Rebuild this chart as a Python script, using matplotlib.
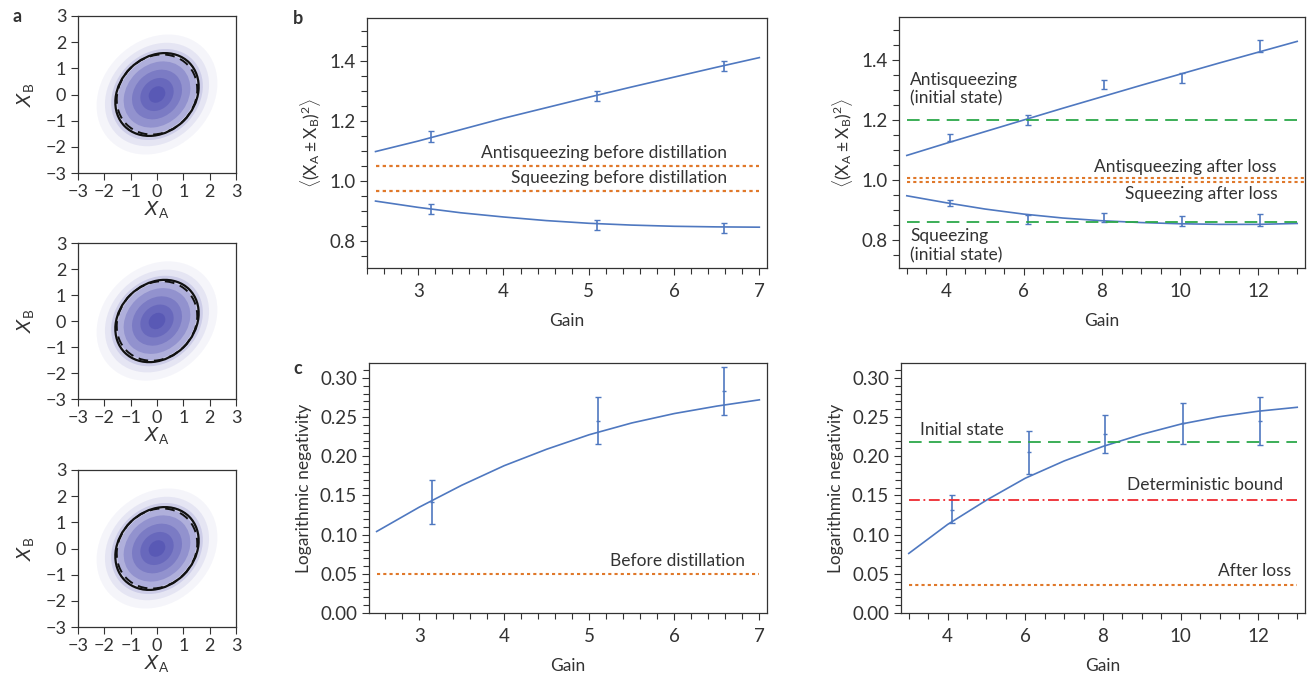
import matplotlib
matplotlib.use("Agg")
import matplotlib.pyplot as plt
from matplotlib.patches import Ellipse
from matplotlib.ticker import MultipleLocator, FormatStrFormatter

plt.rcParams['font.family'] = ['Lato', 'DejaVu Sans']
plt.rcParams['mathtext.fontset'] = 'custom'
plt.rcParams['mathtext.rm'] = 'Lato'
plt.rcParams['mathtext.it'] = 'DejaVu Sans:italic'
plt.rcParams['mathtext.bf'] = 'Lato:bold'
plt.rcParams['axes.edgecolor'] = '#333333'
plt.rcParams['xtick.color'] = '#333333'
plt.rcParams['ytick.color'] = '#333333'
plt.rcParams['text.color'] = '#333333'
plt.rcParams['axes.labelcolor'] = '#333333'

BLUE = '#4f78c0'
ORANGE = '#e0782a'
GREEN = '#2ca84a'
RED = '#ee2a30'
CLOUD = '#20209c'

# ---- panel a : ellipses (solid / dashed) and cloud shells
solid_w, solid_h = 3.45, 2.85
dash_w, dash_h = 3.25, 2.85
ell_angle = 45
cloud_scales = [0.2, 0.4, 0.6, 0.8, 0.95, 1.1, 1.25, 1.45]
cloud_alphas = [0.2, 0.2, 0.2, 0.2, 0.17, 0.12, 0.07, 0.045]

# ---- panel b, left (before distillation)
bl_gain = [3.15, 5.1, 6.58]
bl_anti = [1.148, 1.283, 1.382]
bl_anti_err = [0.018, 0.017, 0.018]
bl_sq = [0.905, 0.852, 0.842]
bl_sq_err = [0.017, 0.017, 0.018]
bl_fit_gain = [2.5, 3.0, 3.5, 4.0, 4.5, 5.0, 5.5, 6.0, 6.5, 7.0]
bl_fit_anti = [1.097, 1.132, 1.170, 1.208, 1.243, 1.278, 1.312, 1.345, 1.378, 1.410]
bl_fit_sq = [0.932, 0.911, 0.893, 0.879, 0.867, 0.858, 0.852, 0.848, 0.846, 0.845]
bl_anti_before = 1.048
bl_sq_before = 0.966

# ---- panel b, right (after loss)
br_gain = [4.1, 6.1, 8.05, 10.05, 12.05]
br_anti = [1.141, 1.200, 1.319, 1.339, 1.447]
br_anti_err = [0.011, 0.017, 0.015, 0.017, 0.02]
br_sq = [0.923, 0.869, 0.876, 0.864, 0.867]
br_sq_err = [0.010, 0.015, 0.015, 0.017, 0.02]
br_fit_gain = [3, 4, 5, 6, 7, 8, 9, 10, 11, 12, 13]
br_fit_anti = [1.082, 1.122, 1.161, 1.200, 1.239, 1.277, 1.315, 1.352, 1.389, 1.425, 1.461]
br_fit_sq = [0.948, 0.925, 0.904, 0.887, 0.874, 0.865, 0.859, 0.855, 0.853, 0.853, 0.856]
br_anti_init = 1.2
br_sq_init = 0.86
br_anti_loss = 1.007
br_sq_loss = 0.993

# ---- panel c, left
cl_gain = [3.15, 5.1, 6.58]
cl_ln = [0.142, 0.245, 0.283]
cl_err_lo = [0.028, 0.029, 0.030]
cl_err_hi = [0.028, 0.030, 0.031]
cl_fit_gain = [2.5, 3.0, 3.5, 4.0, 4.5, 5.0, 5.5, 6.0, 6.5, 7.0]
cl_fit_ln = [0.104, 0.135, 0.163, 0.188, 0.209, 0.2275, 0.2425, 0.2545, 0.264, 0.272]
cl_before = 0.05

# ---- panel c, right
cr_gain = [4.1, 6.1, 8.05, 10.05, 12.05]
cr_ln = [0.132, 0.205, 0.228, 0.242, 0.245]
cr_err_lo = [0.017, 0.027, 0.024, 0.026, 0.030]
cr_err_hi = [0.019, 0.027, 0.025, 0.026, 0.031]
cr_fit_gain = [3, 4, 5, 6, 7, 8, 9, 10, 11, 12, 13]
cr_fit_ln = [0.076, 0.113, 0.144, 0.172, 0.194, 0.2126, 0.228, 0.241, 0.2505, 0.2575, 0.2625]
cr_initial = 0.2177
cr_bound = 0.144
cr_after = 0.0363

W, H = 1308, 681
fig = plt.figure(figsize=(W / 100, H / 100), dpi=100)


def rect(left, right, top, bottom):
    return [left / W, 1 - bottom / H, (right - left) / W, (bottom - top) / H]


def style_axes(ax, fs=13.5):
    ax.tick_params(which='major', direction='out', length=5, width=0.8, labelsize=fs)
    ax.tick_params(which='minor', direction='out', length=4, width=0.8)
    ax.tick_params(axis='x', which='major', pad=6)
    for s in ax.spines.values():
        s.set_linewidth(0.9)


# panel a
for top, bottom in [(16, 173), (243, 399), (470, 627)]:
    ax = fig.add_axes(rect(78, 236, top, bottom))
    for sc, al in zip(reversed(cloud_scales), reversed(cloud_alphas)):
        ax.add_patch(Ellipse((0, 0), solid_w * sc, solid_h * sc, angle=ell_angle,
                             facecolor=CLOUD, edgecolor='none', alpha=al))
    ax.add_patch(Ellipse((0, 0), solid_w, solid_h, angle=ell_angle,
                         facecolor='none', edgecolor='#111111', lw=1.6))
    ax.add_patch(Ellipse((0, 0), dash_w, dash_h, angle=ell_angle,
                         facecolor='none', edgecolor='#111111', lw=1.4, ls=(0, (5, 3))))
    ax.set_xlim(-3, 3)
    ax.set_ylim(-3, 3)
    ax.set_xticks([-3, -2, -1, 0, 1, 2, 3])
    ax.set_yticks([-3, -2, -1, 0, 1, 2, 3])
    ax.set_xticklabels(['\u22123', '\u22122', '\u22121', '0', '1', '2', '3'])
    ax.set_yticklabels(['\u22123', '\u22122', '\u22121', '0', '1', '2', '3'])
    style_axes(ax, fs=13)
    ax.tick_params(axis='x', which='major', pad=3)
    ax.set_xlabel(r'$X_{\rm A}$', fontsize=14, labelpad=0)
    ax.set_ylabel(r'$X_{\rm B}$', fontsize=14, labelpad=6)

fig.text(17 / W, 1 - 17 / H, 'a', fontsize=13, fontweight='bold', ha='center', va='center')
fig.text(298 / W, 1 - 19 / H, 'b', fontsize=13, fontweight='bold', ha='center', va='center')
fig.text(298 / W, 1 - 368 / H, 'c', fontsize=13, fontweight='bold', ha='center', va='center')

ylab_b = r'$\langle(\mathrm{X_A} \pm \mathrm{X_B})^2\rangle$'
err_kw = dict(fmt='none', ecolor=BLUE, elinewidth=1.2, capsize=2.5, capthick=1.0)
FS = 12.5

# panel b left
ax = fig.add_axes(rect(367, 767, 18, 268))
ax.plot(bl_fit_gain, bl_fit_anti, color=BLUE, lw=1.2)
ax.plot(bl_fit_gain, bl_fit_sq, color=BLUE, lw=1.2)
ax.errorbar(bl_gain, bl_anti, yerr=bl_anti_err, **err_kw)
ax.errorbar(bl_gain, bl_sq, yerr=bl_sq_err, **err_kw)
ax.plot([2.5, 7.0], [bl_anti_before] * 2, color=ORANGE, lw=1.6, ls=(0, (1.5, 1.5)))
ax.plot([2.5, 7.0], [bl_sq_before] * 2, color=ORANGE, lw=1.6, ls=(0, (1.5, 1.5)))
ax.text(6.62, 1.092, 'Antisqueezing before distillation', ha='right', va='center', fontsize=FS)
ax.text(6.62, 1.009, 'Squeezing before distillation', ha='right', va='center', fontsize=FS)
ax.set_xlim(2.4, 7.09)
ax.set_ylim(0.709, 1.542)
ax.xaxis.set_major_locator(MultipleLocator(1))
ax.xaxis.set_minor_locator(MultipleLocator(0.2))
ax.yaxis.set_major_locator(MultipleLocator(0.2))
ax.yaxis.set_minor_locator(MultipleLocator(0.05))
ax.yaxis.set_major_formatter(FormatStrFormatter('%.1f'))
style_axes(ax)
ax.set_xlabel('Gain', fontsize=FS, labelpad=9)
ax.set_ylabel(ylab_b, fontsize=FS, labelpad=4)

# panel b right
ax = fig.add_axes(rect(899, 1305, 17, 268))
ax.plot(br_fit_gain, br_fit_anti, color=BLUE, lw=1.2)
ax.plot(br_fit_gain, br_fit_sq, color=BLUE, lw=1.2)
ax.errorbar(br_gain, br_anti, yerr=br_anti_err, **err_kw)
ax.errorbar(br_gain, br_sq, yerr=br_sq_err, **err_kw)
ax.plot([3, 13], [br_anti_init] * 2, color=GREEN, lw=1.3, ls=(0, (7, 4)))
ax.plot([3, 13], [br_sq_init] * 2, color=GREEN, lw=1.3, ls=(0, (7, 4)))
ax.plot([3, 13.2], [br_anti_loss] * 2, color=ORANGE, lw=1.5, ls=(0, (1.5, 1.5)))
ax.plot([3, 13.2], [br_sq_loss] * 2, color=ORANGE, lw=1.5, ls=(0, (1.5, 1.5)))
ax.text(3.08, 1.303, 'Antisqueezing\n(initial state)', ha='left', va='center', fontsize=FS,
        linespacing=1.2)
ax.text(12.47, 1.045, 'Antisqueezing after loss', ha='right', va='center', fontsize=FS)
ax.text(12.5, 0.955, 'Squeezing after loss', ha='right', va='center', fontsize=FS)
ax.text(3.08, 0.782, 'Squeezing\n(initial state)', ha='left', va='center', fontsize=FS,
        linespacing=1.2)
ax.set_xlim(2.8, 13.2)
ax.set_ylim(0.708, 1.542)
ax.xaxis.set_major_locator(MultipleLocator(2))
ax.xaxis.set_minor_locator(MultipleLocator(0.5))
ax.yaxis.set_major_locator(MultipleLocator(0.2))
ax.yaxis.set_minor_locator(MultipleLocator(0.05))
ax.yaxis.set_major_formatter(FormatStrFormatter('%.1f'))
style_axes(ax)
ax.set_xlabel('Gain', fontsize=FS, labelpad=9)
ax.set_ylabel(ylab_b, fontsize=FS, labelpad=4)

# panel c left
ax = fig.add_axes(rect(369, 767, 363, 613))
ax.plot(cl_fit_gain, cl_fit_ln, color=BLUE, lw=1.2)
ax.errorbar(cl_gain, cl_ln, yerr=[cl_err_lo, cl_err_hi], **err_kw)
ax.plot(cl_gain, cl_ln, ls='none', marker='_', ms=3, mew=1, color=BLUE)
ax.plot([2.5, 7.0], [cl_before] * 2, color=ORANGE, lw=1.5, ls=(0, (1.5, 1.5)))
ax.text(6.83, 0.066, 'Before distillation', ha='right', va='center', fontsize=FS)
ax.set_xlim(2.41, 7.09)
ax.set_ylim(0, 0.319)
ax.xaxis.set_major_locator(MultipleLocator(1))
ax.xaxis.set_minor_locator(MultipleLocator(0.2))
ax.yaxis.set_major_locator(MultipleLocator(0.05))
ax.yaxis.set_minor_locator(MultipleLocator(0.01))
ax.yaxis.set_major_formatter(FormatStrFormatter('%.2f'))
style_axes(ax)
ax.set_xlabel('Gain', fontsize=FS, labelpad=9)
ax.set_ylabel('Logarithmic negativity', fontsize=FS, labelpad=6)

# panel c right
ax = fig.add_axes(rect(901, 1305, 363, 613))
ax.plot(cr_fit_gain, cr_fit_ln, color=BLUE, lw=1.2)
ax.errorbar(cr_gain, cr_ln, yerr=[cr_err_lo, cr_err_hi], **err_kw)
ax.plot(cr_gain, cr_ln, ls='none', marker='_', ms=3, mew=1, color=BLUE)
ax.plot([3, 13], [cr_initial] * 2, color=GREEN, lw=1.3, ls=(0, (7, 4)))
ax.plot([3, 13], [cr_bound] * 2, color=RED, lw=1.3, ls=(0, (6, 2, 1, 2)))
ax.plot([3, 13], [cr_after] * 2, color=ORANGE, lw=1.5, ls=(0, (1.5, 1.5)))
ax.text(3.29, 0.233, 'Initial state', ha='left', va='center', fontsize=FS)
ax.text(12.64, 0.1635, 'Deterministic bound', ha='right', va='center', fontsize=FS)
ax.text(12.85, 0.0538, 'After loss', ha='right', va='center', fontsize=FS)
ax.set_xlim(2.8, 13.2)
ax.set_ylim(0, 0.319)
ax.xaxis.set_major_locator(MultipleLocator(2))
ax.xaxis.set_minor_locator(MultipleLocator(0.5))
ax.yaxis.set_major_locator(MultipleLocator(0.05))
ax.yaxis.set_minor_locator(MultipleLocator(0.01))
ax.yaxis.set_major_formatter(FormatStrFormatter('%.2f'))
style_axes(ax)
ax.set_xlabel('Gain', fontsize=FS, labelpad=9)
ax.set_ylabel('Logarithmic negativity', fontsize=FS, labelpad=6)

fig.savefig('out.png', dpi=100)
